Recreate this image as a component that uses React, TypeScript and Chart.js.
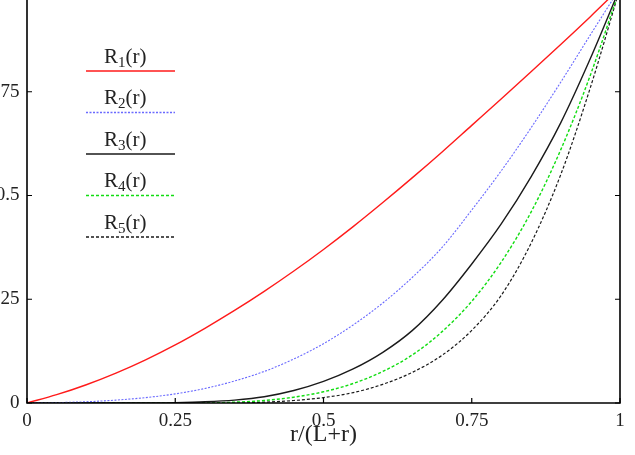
import React, { useEffect, useRef } from "react";
import { Chart, registerables } from "chart.js";

Chart.register(...registerables);

const rValues = [0, 0.05, 0.1, 0.15, 0.2, 0.25, 0.3, 0.35, 0.4, 0.45, 0.5, 0.55, 0.6, 0.65, 0.7, 0.75, 0.8, 0.85, 0.9, 0.95, 1];
const R1 = [0, 0.02, 0.044, 0.072, 0.104, 0.14, 0.18, 0.223, 0.269, 0.318, 0.37, 0.425, 0.483, 0.543, 0.605, 0.669, 0.733, 0.798, 0.864, 0.931, 1];
const R2 = [0, 0.001, 0.003, 0.007, 0.013, 0.022, 0.035, 0.053, 0.076, 0.106, 0.143, 0.188, 0.241, 0.303, 0.375, 0.465, 0.56, 0.663, 0.773, 0.887, 1];
const R3 = [0, 0, 0, 0, 0, 0.001, 0.003, 0.007, 0.015, 0.03, 0.052, 0.082, 0.122, 0.175, 0.247, 0.335, 0.432, 0.545, 0.675, 0.83, 1];
const R4 = [0, 0, 0, 0, 0, 0, 0, 0.002, 0.006, 0.014, 0.027, 0.047, 0.076, 0.116, 0.172, 0.245, 0.34, 0.46, 0.61, 0.79, 1];
const R5 = [0, 0, 0, 0, 0, 0, 0, 0, 0.002, 0.006, 0.013, 0.025, 0.045, 0.074, 0.115, 0.175, 0.26, 0.385, 0.55, 0.76, 1];

const seriesNames = ["R₁(r)", "R₂(r)", "R₃(r)", "R₄(r)", "R₅(r)"];
const seriesSubs = ["1", "2", "3", "4", "5"];
const seriesValues = [R1, R2, R3, R4, R5];
const xTicks = [0, 0.25, 0.5, 0.75, 1];
const yTicks = [0, 0.25, 0.5, 0.75, 1];
const xTitle = "r/(L+r)";

const FONT = "'Liberation Serif', 'Times New Roman', serif";
const styles = [
  { color: "#ff1a1a", width: 1.4, dash: [] as number[] },
  { color: "#6a6aff", width: 1.1, dash: [2, 1.5] },
  { color: "#1a1a1a", width: 1.4, dash: [] as number[] },
  { color: "#11dd11", width: 1.4, dash: [3, 2] },
  { color: "#1a1a1a", width: 1.2, dash: [3, 2] },
];

const OFFSET = 15;

const framePlugin = {
  id: "frame",
  afterDatasetsDraw(chart: any) {
    const { ctx, chartArea, scales } = chart;
    const { left, right, top, bottom } = chartArea;
    const x = scales.x;
    const y = scales.y;
    ctx.save();
    ctx.strokeStyle = "#000";
    ctx.lineWidth = 1.6;
    ctx.setLineDash([]);
    ctx.beginPath();
    ctx.moveTo(left, top);
    ctx.lineTo(left, bottom);
    ctx.lineTo(right, bottom);
    ctx.lineTo(right, top);
    ctx.lineTo(left, top);
    ctx.stroke();
    ctx.lineWidth = 1.2;
    const tl = 5;
    for (const v of yTicks) {
      const py = y.getPixelForValue(v);
      ctx.beginPath();
      ctx.moveTo(left, py);
      ctx.lineTo(left + tl, py);
      ctx.moveTo(right, py);
      ctx.lineTo(right - tl, py);
      ctx.stroke();
    }
    for (const v of xTicks) {
      const px = x.getPixelForValue(v);
      ctx.beginPath();
      ctx.moveTo(px, bottom);
      ctx.lineTo(px, bottom - tl);
      ctx.moveTo(px, top);
      ctx.lineTo(px, top + tl);
      ctx.stroke();
    }
    ctx.restore();
  },
  afterDraw(chart: any) {
    const { ctx, chartArea } = chart;
    const x0 = chartArea.left + 59;
    const x1 = chartArea.left + 148;
    const textX = chartArea.left + 77;
    ctx.save();
    chart.data.datasets.forEach((ds: any, i: number) => {
      const ly = chartArea.top + 83 + 41.5 * i;
      const base = ly - 8.5;
      ctx.fillStyle = "#222";
      ctx.textBaseline = "alphabetic";
      ctx.textAlign = "left";
      ctx.font = `21px ${FONT}`;
      let tx = textX;
      ctx.fillText("R", tx, base);
      tx += ctx.measureText("R").width;
      ctx.font = `15px ${FONT}`;
      ctx.fillText(seriesSubs[i], tx, base + 4);
      tx += ctx.measureText(seriesSubs[i]).width;
      ctx.font = `21px ${FONT}`;
      ctx.fillText("(r)", tx, base);
      ctx.strokeStyle = ds.borderColor;
      ctx.lineWidth = ds.borderWidth + 0.3;
      ctx.setLineDash(ds.borderDash || []);
      ctx.beginPath();
      ctx.moveTo(x0, ly);
      ctx.lineTo(x1, ly);
      ctx.stroke();
    });
    ctx.restore();
  },
};

const fmt = (v: any) => String(Number(v));

export default function App() {
  const ref = useRef<HTMLCanvasElement | null>(null);
  useEffect(() => {
    if (!ref.current) return;
    Chart.defaults.font.family = FONT;
    const chart = new Chart(ref.current, {
      type: "line",
      data: {
        datasets: seriesValues.map((vals, i) => ({
          label: seriesNames[i],
          data: rValues.map((r, j) => ({ x: r, y: vals[j] })),
          borderColor: styles[i].color,
          borderWidth: styles[i].width,
          borderDash: styles[i].dash,
          pointRadius: 0,
          fill: false,
          cubicInterpolationMode: "monotone",
        })),
      },
      options: {
        animation: false,
        responsive: false,
        devicePixelRatio: 1,
        layout: { padding: { top: 3, right: 15, left: 0, bottom: 0 } },
        plugins: { legend: { display: false }, tooltip: { enabled: false } },
        scales: {
          x: {
            type: "linear",
            min: 0,
            max: 1,
            afterBuildTicks: (s: any) => {
              s.ticks = xTicks.map((v) => ({ value: v }));
            },
            afterFit: (s: any) => {
              s.height = 470 - 418;
              s.paddingLeft = 0;
              s.paddingRight = 0;
            },
            grid: { display: false, drawTicks: false },
            border: { display: false },
            ticks: {
              color: "#222",
              padding: 7,
              font: { size: 19, family: FONT },
              maxRotation: 0,
              autoSkip: false,
              callback: fmt,
            },
            title: {
              display: true,
              text: xTitle,
              color: "#222",
              font: { size: 24, family: FONT },
              padding: { top: 0, bottom: 6 },
            },
          },
          y: {
            type: "linear",
            min: 0,
            max: 1,
            afterBuildTicks: (s: any) => {
              s.ticks = yTicks.map((v) => ({ value: v }));
            },
            afterFit: (s: any) => {
              s.width = 27;
              s.paddingTop = 0;
              s.paddingBottom = 0;
            },
            grid: { display: false, drawTicks: false },
            border: { display: false },
            ticks: {
              color: "#222",
              padding: 7.5,
              font: { size: 19, family: FONT },
              callback: fmt,
            },
          },
        },
      },
      plugins: [framePlugin],
    });
    return () => chart.destroy();
  }, []);

  return (
    <div
      style={{
        position: "fixed",
        left: 0,
        top: 0,
        width: 635,
        height: 455,
        overflow: "hidden",
        background: "#fff",
      }}
    >
      <div style={{ position: "absolute", left: 0, top: -OFFSET, width: 635, height: 470 }}>
        <canvas ref={ref} width={635} height={470} style={{ display: "block", width: 635, height: 470 }} />
      </div>
    </div>
  );
}
